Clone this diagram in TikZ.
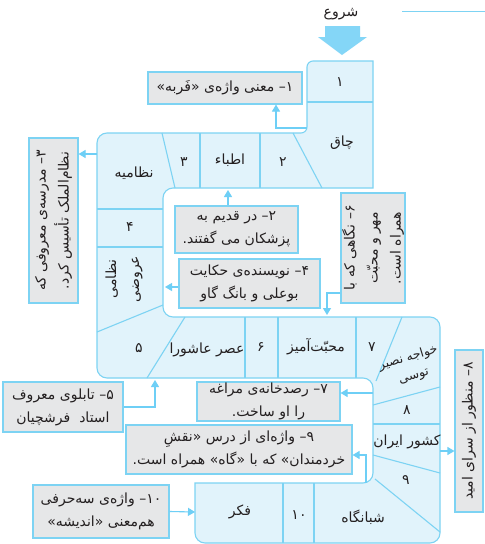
\documentclass[tikz,border=0pt]{standalone}
\usepackage{fontspec}
\usepackage{tikz}
\usetikzlibrary{arrows.meta,calc}
\newfontfamily\farsi[Script=Arabic]{DejaVu Sans}
\TeXXeTstate=1
\definecolor{puzzleblue}{HTML}{E1F3FB}
\definecolor{puzzleline}{HTML}{7DD3F3}
\definecolor{puzzlegray}{HTML}{E6E7E8}
\definecolor{puzzlearrow}{HTML}{6ECFF6}
\definecolor{puzzleink}{HTML}{231F20}
\newcommand{\fa}[1]{\beginR #1\endR}
\newcommand{\puzzlefont}{\farsi\fontsize{14}{23}\selectfont}

\begin{document}
\begin{tikzpicture}[x=1pt,y=-1pt,
    cellline/.style={draw=puzzleline,line width=1.1pt},
    clue/.style={draw=puzzleline,line width=1.1pt,fill=puzzlegray,text=puzzleink,
                 align=center,inner sep=1pt,font=\puzzlefont},
    cell/.style={inner sep=0pt,text=puzzleink,font=\puzzlefont},
    arr/.style={-{Triangle[length=7pt,width=8pt]},puzzlearrow,line width=1.1pt},
  ]
    \fill[white] (0,0) rectangle (485,544);
    \useasboundingbox (0,0) rectangle (485,544);

    % header rule and start arrow
    \draw[puzzleline,line width=1pt] (402,11) -- (485,11);
    \node[cell] (start) at (341,14) {\fa{شروع}};
    \fill[puzzlearrow!85] (325,26) -- (360,26) -- (360,37) -- (367,37) -- (342,55)
        -- (318,37) -- (325,37) -- cycle;

    % the snake of cells
    \draw[cellline,fill=puzzleblue]
      (195,483) [rounded corners=10pt] -- (373,483) -- (373,378) -- (97,378) -- (97,133)
      [rounded corners=6pt] -- (307,133) -- (307,61) [sharp corners] -- (373,61) -- (373,188)
      [rounded corners=10pt] -- (163,188) -- (163,317) -- (440,317) -- (440,543)
      -- (195,543) [sharp corners] -- cycle;
    \draw[cellline] (307,102) -- (373,102);
    \draw[cellline] (293,133) -- (322,188);
    \draw[cellline] (260,133) -- (260,188);
    \draw[cellline] (200,133) -- (200,188);
    \draw[cellline] (162,133) -- (175,188);
    \draw[cellline] (97,209) -- (163,209);
    \draw[cellline] (97,247) -- (163,247);
    \draw[cellline] (97,332) -- (163,305);
    \draw[cellline] (185,317) -- (147,378);
    \draw[cellline] (245,317) -- (245,378);
    \draw[cellline] (278,317) -- (278,378);
    \draw[cellline] (356,317) -- (356,378);
    \draw[cellline] (402,317) -- (376,381);
    \draw[cellline] (373,405) -- (440,387);
    \draw[cellline] (373,424) -- (440,424);
    \draw[cellline] (373,455) -- (440,473);
    \draw[cellline] (375,479) -- (440,532);
    \draw[cellline] (283,483) -- (283,543);
    \draw[cellline] (314,483) -- (314,543);

    % cell contents
    \node[cell] (n1) at (340,82) {\fa{۱}};
    \node[cell] (chaq) at (342,143) {\fa{چاق}};
    \node[cell] (n2) at (283,162) {\fa{۲}};
    \node[cell] (atebba) at (230,160) {\fa{اطباء}};
    \node[cell] (n3) at (184,162) {\fa{۳}};
    \node[cell] (nezamiye) at (134,173) {\fa{نظامیه}};
    \node[cell] (n4) at (130,227) {\fa{۴}};
    \node[cell,rotate=90,align=center] (nezami) at (124,279) {\fa{نظامی}\\\fa{عروضی}};
    \node[cell] (n5) at (139,348) {\fa{۵}};
    \node[cell] (ashura) at (207,350) {\fa{عصر عاشورا}};
    \node[cell] (n6) at (261,347) {\fa{۶}};
    \node[cell] (mohabbat) at (316,347) {\fa{محبّت^^^^200cآمیز}};
    \node[cell] (n7) at (372,347) {\fa{۷}};
    \node[cell,rotate=17,align=center,font=\farsi\fontsize{12.5}{19}\selectfont] (khaje)
      at (411,367) {\fa{خواجه نصیر}\\\fa{توسی}};
    \node[cell] (n8) at (407,410) {\fa{۸}};
    \node[cell] (iran) at (407,442) {\fa{کشور ایران}};
    \node[cell] (n9) at (406,480) {\fa{۹}};
    \node[cell] (shabangah) at (363,517) {\fa{شبانگاه}};
    \node[cell] (n10) at (299,515) {\fa{۱۰}};
    \node[cell] (fekr) at (240,512) {\fa{فکر}};

    % clue boxes
    \node[clue,minimum width=154pt,minimum height=32pt] (c1) at (225,88)
      {\fa{۱– معنی واژه^^^^200cی «فَربه»}};
    \node[clue,minimum width=123pt,minimum height=47pt] (c2) at (236.5,229.5)
      {\fa{۲– در قدیم به}\\\fa{پزشکان می گفتند.}};
    \node[clue,rotate=90,minimum width=165pt,minimum height=49pt] (c3) at (53.5,220.5)
      {\fa{۳– مدرسه^^^^200cی معروفی که}\\\fa{نظام^^^^200cالملک تأسیس کرد.}};
    \node[clue,minimum width=141pt,minimum height=49pt] (c4) at (249.5,283.5)
      {\fa{۴– نویسنده^^^^200cی حکایت}\\\fa{بوعلی و بانگ گاو}};
    \node[clue,minimum width=120pt,minimum height=50pt] (c5) at (63,407)
      {\fa{۵– تابلوی معروف}\\\fa{استاد \ فرشچیان}};
    \node[clue,rotate=90,minimum width=110pt,minimum height=64pt] (c6) at (373,248)
      {\fa{۶– نگاهی که با}\\\fa{مهر و محبّت}\\\fa{همراه است.}};
    \node[clue,minimum width=143pt,minimum height=39pt] (c7) at (268.5,401.5)
      {\fa{۷– رصدخانه^^^^200cی مراغه}\\\fa{را او ساخت.}};
    \node[clue,rotate=90,minimum width=162pt,minimum height=28pt] (c8) at (469,431)
      {\fa{۸– منظور از سرای امید}};
    \node[clue,minimum width=226pt,minimum height=49pt] (c9) at (239,449.5)
      {\fa{۹– واژه^^^^200cای از درس «نقشِ}\\\fa{خردمندان» که با «گاه» همراه است.}};
    \node[clue,minimum width=136pt,minimum height=53pt] (c10) at (101,511.5)
      {\fa{۱۰– واژه^^^^200cی سه^^^^200cحرفی}\\\fa{هم^^^^200cمعنی «اندیشه»}};

    % connectors
    \coordinate (s1) at (307,128);
    \coordinate (s2) at (228,190);
    \coordinate (s3) at (97,154);
    \coordinate (s4) at (165,287);
    \coordinate (s5) at (155,380);
    \coordinate (s6) at (327,315);
    \coordinate (s7) at (373,393);
    \coordinate (s8) at (440,451);
    \coordinate (s9) at (366,483);
    \coordinate (s10) at (195,512);
    \draw[arr] (s1) -| ([xshift=51pt]c1.south);
    \draw[arr] (c2.north -| s2) -- (s2);
    \draw[arr] (s3) -- (s3 -| c3.south);
    \draw[arr] (c4.west |- s4) -- (s4);
    \draw[arr] (c5.east) -| (s5);
    \draw[arr] (c6.north |- 0,293) -| (s6);
    \draw[arr] (s7) -- (s7 -| c7.east);
    \draw[arr] (s8) -- (s8 -| c8.north);
    \draw[arr] (s9) |- (c9.east |- 0,455);
    \draw[arr] (c10.east) -- (s10);
  \end{tikzpicture}
\end{document}
